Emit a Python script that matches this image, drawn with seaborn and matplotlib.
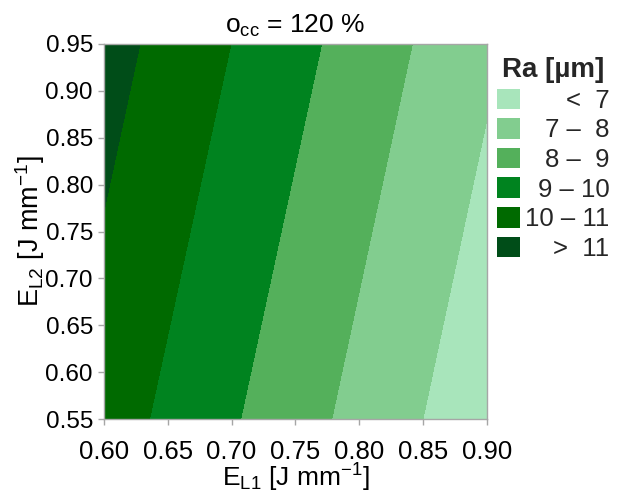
import numpy as np
import matplotlib
matplotlib.use("Agg")
import matplotlib.pyplot as plt
from matplotlib.patches import Patch
from matplotlib.ticker import FormatStrFormatter
import seaborn as sns

# ---- data ----
el1 = [0.60, 0.90]                 # E_L1 grid (x)
el2 = [0.55, 0.95]                 # E_L2 grid (y)
ra_bottom = [10.50, 6.30]          # Ra at E_L2 = 0.55
ra_top = [11.40, 7.18]             # Ra at E_L2 = 0.95
levels = [6, 7, 8, 9, 10, 11, 12]
level_labels = ["<  7", "7 \u2013  8", "8 \u2013  9", "9 \u2013 10", "10 \u2013 11", ">  11"]
level_colors = ["#a8e5bb", "#82cd8f", "#54b05b", "#00831f", "#006a00", "#004d18"]
x_ticks = [0.60, 0.65, 0.70, 0.75, 0.80, 0.85, 0.90]
y_ticks = [0.55, 0.60, 0.65, 0.70, 0.75, 0.80, 0.85, 0.90, 0.95]

sns.set_theme(style="white")
plt.rcParams["font.family"] = ["Liberation Sans", "DejaVu Sans"]
plt.rcParams["mathtext.fontset"] = "custom"
plt.rcParams["mathtext.rm"] = "Liberation Sans"
plt.rcParams["mathtext.it"] = "Liberation Sans:italic"
plt.rcParams["mathtext.bf"] = "Liberation Sans:bold"

fig = plt.figure(figsize=(6.2, 4.96), dpi=100)
ax = fig.add_axes([104 / 620, 1 - 419 / 496, (486.7 - 104) / 620, (419 - 44) / 496])

X, Y = np.meshgrid(el1, el2)
Z = np.array([ra_bottom, ra_top])
ax.contourf(X, Y, Z, levels=levels, colors=level_colors)

ax.set_xlim(0.60, 0.90)
ax.set_ylim(0.55, 0.95)
ax.set_xticks(x_ticks)
ax.set_yticks(y_ticks)
ax.xaxis.set_major_formatter(FormatStrFormatter("%.2f"))
ax.yaxis.set_major_formatter(FormatStrFormatter("%.2f"))
ax.tick_params(axis="both", which="major", direction="out", length=4, width=1,
               color="#a6a6a6", labelcolor="black")
ax.tick_params(axis="x", labelsize=18.5, pad=11)
ax.tick_params(axis="y", labelsize=17.5, pad=4)
ax.tick_params(bottom=True, left=True)
for s in ax.spines.values():
    s.set_color("#a6a6a6")
    s.set_linewidth(1)

ax.set_xlabel(r"E$_\mathrm{L1}$ [J mm$^\mathrm{-1}$]", fontsize=19, color="black", labelpad=-1.5)
ax.set_ylabel(r"E$_\mathrm{L2}$ [J mm$^\mathrm{-1}$]", fontsize=19.5, color="black", labelpad=-1)
ax.set_title(r"o$_\mathrm{cc}$ = 120 %", fontsize=19, color="black", pad=8)

handles = [Patch(facecolor=c, edgecolor="none") for c in level_colors]
leg = ax.legend(handles, level_labels, title="Ra [\u00b5m]",
                title_fontproperties={"weight": "bold", "size": 20},
                loc="upper left", bbox_to_anchor=(1.027, 0.965), frameon=False,
                fontsize=18.5, handlelength=0.9, handleheight=0.86, handletextpad=0.2,
                labelspacing=0.21, borderpad=0, borderaxespad=0)

fig.canvas.draw()
renderer = fig.canvas.get_renderer()
widths = [t.get_window_extent(renderer).width for t in leg.get_texts()]
shift = max(widths)
for t, w in zip(leg.get_texts(), widths):
    t.set_position((shift - w, 0))

fig.savefig("out.png", dpi=100)
